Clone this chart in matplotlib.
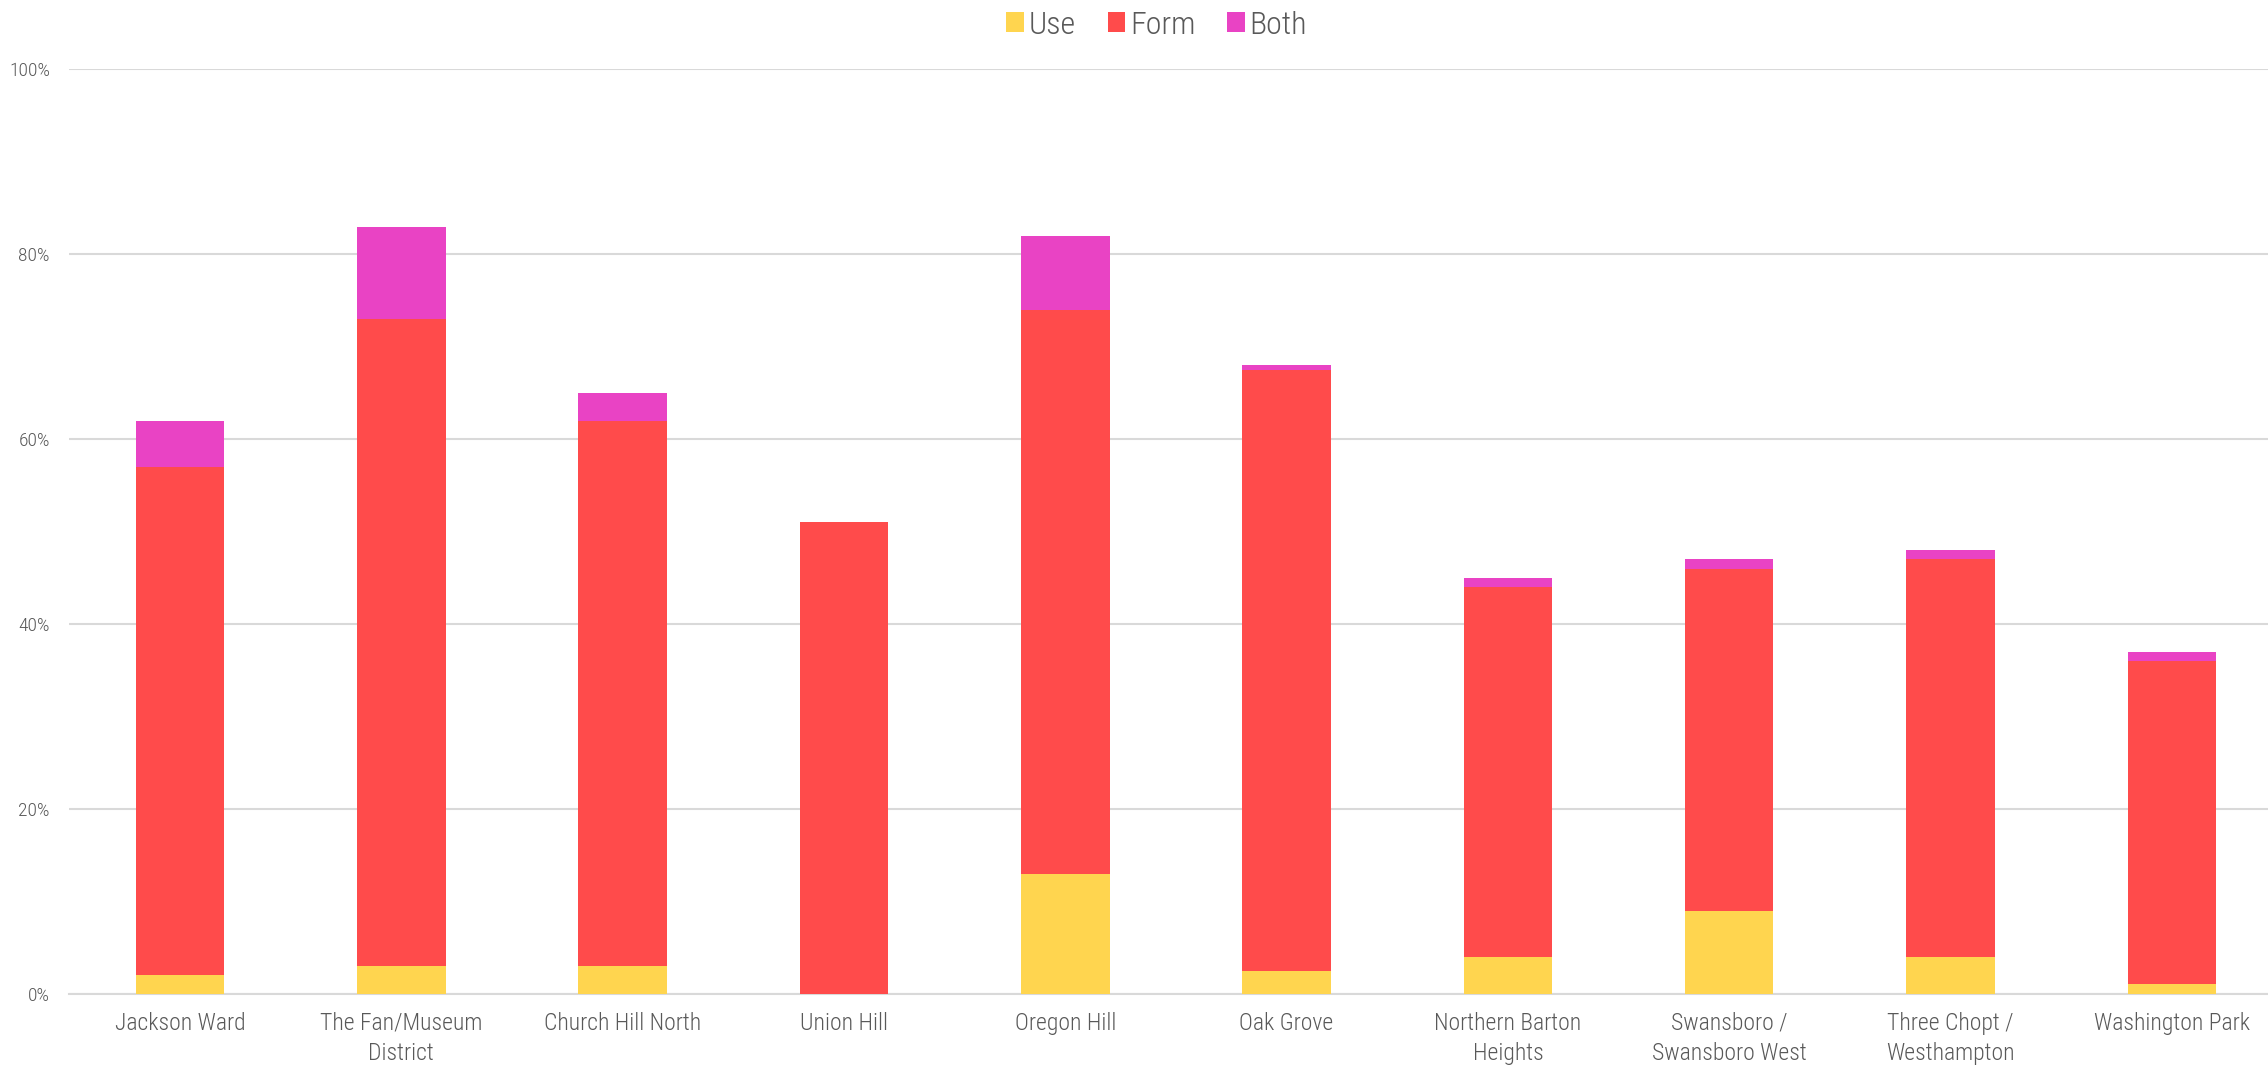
import numpy as np
import matplotlib.pyplot as plt
from matplotlib.ticker import PercentFormatter

plt.rcParams['font.family'] = ['Roboto Condensed', 'Liberation Sans Narrow', 'Lato', 'DejaVu Sans']

neighborhoods = ["Jackson Ward", "The Fan/Museum\nDistrict", "Church Hill North",
                 "Union Hill", "Oregon Hill", "Oak Grove", "Northern Barton\nHeights",
                 "Swansboro /\nSwansboro West", "Three Chopt /\nWesthampton",
                 "Washington Park"]

# percent of lots in each category
use_pct = [2, 3, 3, 0, 13, 2.5, 4, 9, 4, 1]
form_pct = [55, 70, 59, 51, 61, 65, 40, 37, 43, 35]
both_pct = [5, 10, 3, 0, 8, 0.5, 1, 1, 1, 1]

c_use = '#FFD54F'
c_form = '#FF4B4B'
c_both = '#E943C4'
text_gray = '#595959'

fig = plt.figure(figsize=(22.68, 10.69), dpi=100)
ax = fig.add_axes([0.0306, 0.0704, 0.9758, 0.8647])

x = np.arange(len(neighborhoods))
w = 0.4
use_a = np.array(use_pct)
form_a = np.array(form_pct)
both_a = np.array(both_pct)

ax.bar(x, use_a, w, color=c_use, label='Use', zorder=3)
ax.bar(x, form_a, w, bottom=use_a, color=c_form, label='Form', zorder=3)
ax.bar(x, both_a, w, bottom=use_a + form_a, color=c_both, label='Both', zorder=3)

ax.set_xlim(-0.5, len(neighborhoods) - 0.5)
ax.set_ylim(0, 100)
ax.set_yticks(np.arange(0, 101, 20))
ax.yaxis.set_major_formatter(PercentFormatter(decimals=0))
ax.grid(axis='y', color='#D9D9D9', linewidth=1.5, zorder=0)

for s in ['top', 'right', 'left']:
    ax.spines[s].set_visible(False)
ax.spines['bottom'].set_color('#D9D9D9')
ax.spines['bottom'].set_linewidth(1.5)

ax.set_xticks(x)
ax.set_xticklabels(neighborhoods, fontsize=17, color=text_gray, linespacing=1.4,
                   fontweight='light')
ax.tick_params(axis='x', length=0, pad=13)
ax.tick_params(axis='y', length=0, pad=14, labelsize=14, labelcolor=text_gray)
for lbl in ax.get_yticklabels():
    lbl.set_fontweight('light')

leg = fig.legend(loc='upper center', bbox_to_anchor=(0.51, 1.017), ncol=3,
                 frameon=False, fontsize=23, handlelength=0.55, handleheight=0.6,
                 handletextpad=0.15, columnspacing=1.0)
for t in leg.get_texts():
    t.set_color(text_gray)
    t.set_fontweight('light')

fig.savefig('out.png', dpi=100)
